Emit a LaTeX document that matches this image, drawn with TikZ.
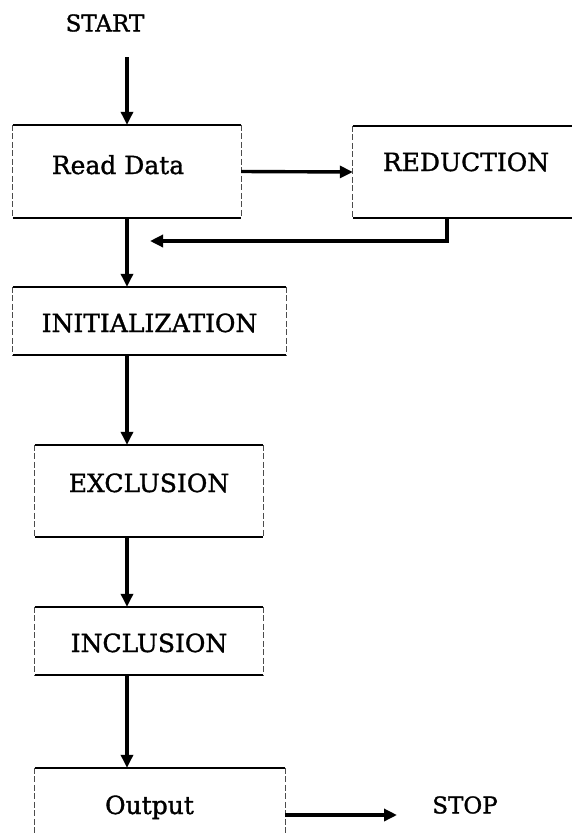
\documentclass[tikz,border=0pt]{standalone}
\usepackage{fontspec}
\setmainfont{DejaVu Serif}[BoldFont={DejaVu Serif}, BoldFeatures={FakeBold=1.3}]
\usetikzlibrary{arrows.meta}

\tikzset{
  flowbox/.style={draw=none, inner sep=0pt,
    append after command={
      (\tikzlastnode.north west) edge[hrule] (\tikzlastnode.north east)
      (\tikzlastnode.south west) edge[hrule] (\tikzlastnode.south east)
      (\tikzlastnode.north west) edge[vrule] (\tikzlastnode.south west)
      (\tikzlastnode.north east) edge[vrule] (\tikzlastnode.south east)}},
  hrule/.style={draw=black, line width=1.6pt, -},
  vrule/.style={draw=black!70, line width=0.9pt, dash pattern=on 6pt off 2.5pt, -},
  boxtext/.style={font=\fontsize{25}{30}\selectfont\bfseries, inner sep=0pt, text height=18pt, text depth=0pt},
  term/.style={font=\fontsize{23}{27}\selectfont\bfseries, inner sep=0pt},
  flow/.style={line width=3.4pt, -{Triangle[length=13pt,width=12pt]}}
}

\begin{document}
\begin{tikzpicture}[x=1pt, y=-1pt]
  \useasboundingbox (0,0) rectangle (571,833);

  % terminals
  \node[term] (start) at (105,23) {START};
  \node[term] (stop) at (465,805) {STOP};

  % process boxes
  \node[flowbox, minimum width=228pt, minimum height=93pt,
        label={[boxtext, xshift=-9pt, yshift=6.5pt]center:Read Data}] (read) at (127,171.5) {};
  \node[flowbox, minimum width=226pt, minimum height=92pt,
        label={[boxtext, yshift=10pt]center:REDUCTION}] (red) at (466,172) {};
  \node[flowbox, minimum width=273pt, minimum height=68pt,
        label={[boxtext, yshift=-2pt]center:INITIALIZATION}] (init) at (149.5,321) {};
  \node[flowbox, minimum width=228pt, minimum height=92pt,
        label={[boxtext, yshift=8pt]center:EXCLUSION}] (excl) at (149,491) {};
  \node[flowbox, minimum width=228pt, minimum height=68pt,
        label={[boxtext, yshift=-2pt]center:INCLUSION}] (incl) at (149,641) {};
  \node[flowbox, minimum width=250pt, minimum height=93pt,
        label={[boxtext, xshift=-10.5pt, yshift=9.5pt]center:Output}] (out) at (160,814.5) {};

  % free ends of connectors
  \coordinate (s0) at (127,57);
  \coordinate (ret) at (150,241);
  \coordinate (s1) at (397,815);

  % connectors
  \draw[flow] (s0) -- (read.north);
  \draw[flow] (read.east) -- (red.west);
  \draw[flow] ([xshift=-19pt]red.south) |- (ret);
  \draw[flow] (read.south) -- (read.south |- init.north);
  \draw[flow] (init.south -| read.south) -- (excl.north -| read.south);
  \draw[flow] (excl.south -| read.south) -- (incl.north -| read.south);
  \draw[flow] (incl.south -| read.south) -- (out.north -| read.south);
  \draw[flow] (out.east |- s1) -- (s1);
\end{tikzpicture}
\end{document}
